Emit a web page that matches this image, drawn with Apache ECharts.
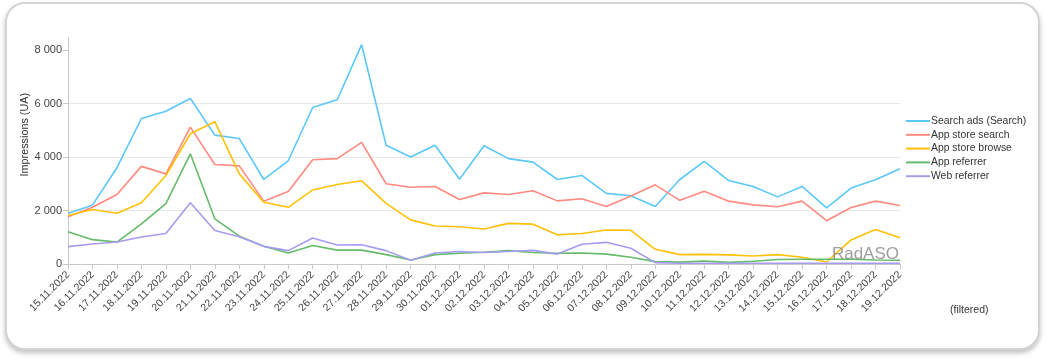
<!DOCTYPE html>
<html>
<head>
<meta charset="utf-8">
<script src="https://cdn.jsdelivr.net/npm/echarts@6/dist/echarts.min.js"></script>
<style>
  html, body { margin: 0; padding: 0; background: #ffffff; }
  #card { position: absolute; left: 5px; top: 2px; width: 1031px; height: 344px; border: 2px solid #d4d4d4; border-radius: 20px; box-shadow: 0 3px 5px rgba(0,0,0,0.25); background: #fff; }
  #chart { position: absolute; left: 0; top: 0; width: 1049px; height: 361px; }
</style>
</head>
<body>
<div id="card"></div>
<div id="chart"></div>
<script>
const categories = ['15.11.2022','16.11.2022','17.11.2022','18.11.2022','19.11.2022','20.11.2022','21.11.2022','22.11.2022','23.11.2022','24.11.2022','25.11.2022','26.11.2022','27.11.2022','28.11.2022','29.11.2022','30.11.2022','01.12.2022','02.12.2022','03.12.2022','04.12.2022','05.12.2022','06.12.2022','07.12.2022','08.12.2022','09.12.2022','10.12.2022','11.12.2022','12.12.2022','13.12.2022','14.12.2022','15.12.2022','16.12.2022','17.12.2022','18.12.2022','19.12.2022'];

const searchAds = [1900,2200,3600,5440,5710,6190,4820,4690,3160,3860,5850,6140,8200,4440,4000,4440,3170,4420,3940,3810,3160,3310,2640,2550,2150,3160,3840,3120,2900,2510,2900,2100,2840,3150,3560];
const appStoreSearch = [1770,2120,2600,3650,3370,5120,3720,3670,2350,2710,3900,3940,4550,3000,2870,2900,2410,2660,2600,2740,2360,2440,2150,2540,2960,2380,2720,2350,2210,2140,2350,1620,2110,2350,2190];
const appStoreBrowse = [1810,2040,1900,2290,3310,4870,5320,3370,2310,2120,2770,2970,3110,2270,1650,1420,1390,1310,1520,1490,1090,1140,1270,1260,550,350,360,340,300,350,250,75,900,1290,980];
const appReferrer = [1210,910,820,1500,2260,4120,1690,1040,660,410,690,520,520,350,150,350,400,440,500,430,400,410,370,250,90,70,110,60,100,170,180,180,180,150,140];
const webReferrer = [650,750,820,1010,1140,2290,1250,1020,660,500,970,710,720,500,140,410,470,430,470,510,370,740,810,590,50,30,30,30,30,30,30,30,30,30,30];

const seriesNames = ['Search ads (Search)','App store search','App store browse','App referrer','Web referrer'];
const seriesColors = ['#5AC8FA','#FF8A80','#FFC107','#66BB6A','#A59CF2'];
const yTickValues = [0,2000,4000,6000,8000];

const chart = echarts.init(document.getElementById('chart'), null, {renderer: 'canvas'});
const dataSets = [searchAds, appStoreSearch, appStoreBrowse, appReferrer, webReferrer];
const FONT = 'Liberation Sans, Arial, sans-serif';

function fmt(v) {
  return String(v).replace(/\B(?=(\d{3})+(?!\d))/g, ' ');
}

const option = {
  backgroundColor: 'transparent',
  animation: false,
  color: seriesColors,
  grid: { left: 68, right: 149, top: 38, bottom: 97, containLabel: false },
  legend: {
    orient: 'vertical',
    left: 906,
    top: 115,
    padding: 0,
    itemWidth: 24,
    itemHeight: 2,
    itemGap: 1.8,
    icon: 'rect',
    textStyle: { fontSize: 10.4, color: '#333', fontFamily: FONT, lineHeight: 12, padding: [0,0,0,-4] },
    data: seriesNames
  },
  xAxis: {
    type: 'category',
    boundaryGap: false,
    data: categories,
    axisLine: { lineStyle: { color: '#c8c8c8', width: 1 } },
    axisTick: { show: true, alignWithLabel: true, length: 5, lineStyle: { color: '#c8c8c8' } },
    axisLabel: { rotate: 45, fontSize: 10.5, color: '#444', margin: 9, interval: 0, fontFamily: FONT },
    splitLine: { show: false }
  },
  yAxis: {
    type: 'value',
    min: 0,
    max: 8450,
    interval: 2000,
    axisLine: { show: true, lineStyle: { color: '#c8c8c8', width: 1 } },
    axisTick: { show: true, length: 5, lineStyle: { color: '#c8c8c8' }, customValues: yTickValues },
    axisLabel: { fontSize: 11, color: '#444', margin: 6, fontFamily: FONT, customValues: yTickValues, formatter: fmt },
    splitLine: { show: true, showMaxLine: false, lineStyle: { color: '#e8e8e8', width: 1 } }
  },
  graphic: [
    { type: 'text', left: 20, top: 93, style: { text: 'Impressions (UA)', fontSize: 10.8, fill: '#333', fontFamily: FONT }, rotation: Math.PI / 2 },
    { type: 'text', right: 150, top: 246, style: { text: 'RadASO', fontSize: 17, fill: 'rgba(125,125,125,0.75)', fontFamily: FONT }, z: 10 },
    { type: 'text', left: 950, top: 305, style: { text: '(filtered)', fontSize: 10.5, fill: '#333', fontFamily: FONT } }
  ],
  series: seriesNames.map((name, i) => ({
    name: name,
    type: 'line',
    data: dataSets[i],
    showSymbol: false,
    symbol: 'none',
    lineStyle: { width: 1.6, color: seriesColors[i] },
    itemStyle: { color: seriesColors[i] },
    emphasis: { disabled: true }
  }))
};
chart.setOption(option);
</script>
</body>
</html>
